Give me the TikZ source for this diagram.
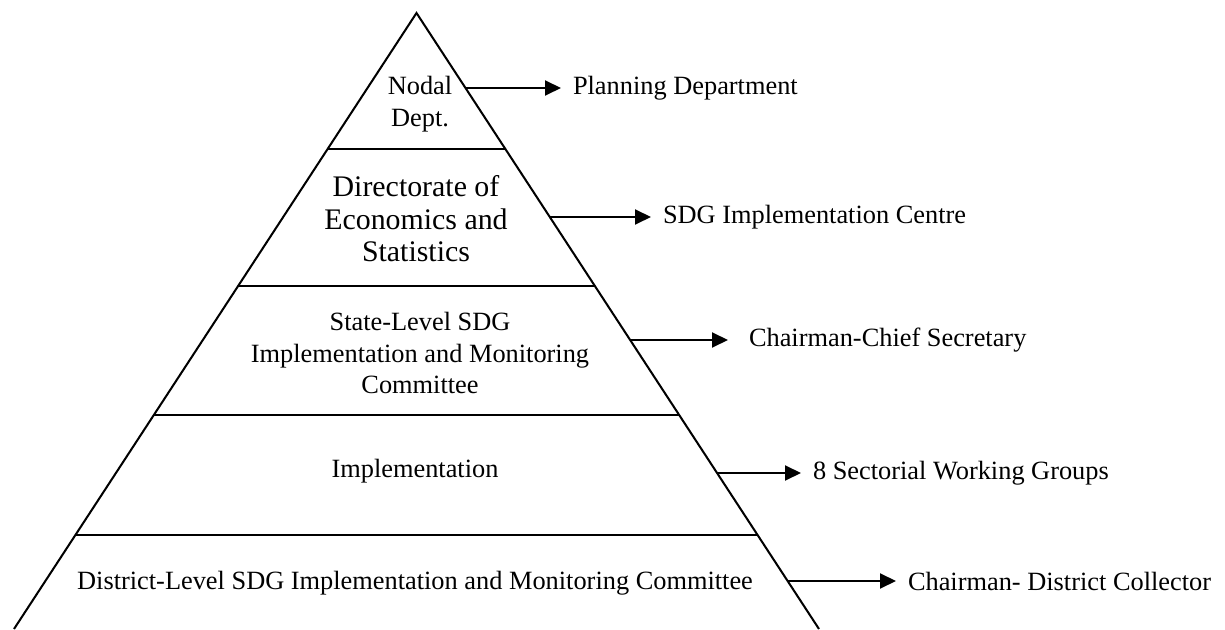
\documentclass[tikz,border=0pt]{standalone}
\usepackage{fontspec}
\setmainfont{Liberation Serif}
\usetikzlibrary{arrows.meta}
\tikzset{
	level/.style = {align=center, font=\fontsize{15}{18}\selectfont},
	side/.style = {anchor=west, inner sep=0pt, font=\fontsize{15}{18}\selectfont},
	pointer/.style = {line width=1.1pt, -{Triangle[length=0.32cm,width=0.3cm]}, shorten >=0.22cm}
}
\begin{document}
\begin{tikzpicture}[line width=1.15pt]
		\useasboundingbox (0,0) rectangle (24.5,12.58);
		
		% pyramid
		\coordinate (apex) at (8.33,12.32);
		\coordinate (bl) at (0.28,0);
		\coordinate (br) at (16.38,0);
		\draw (bl) -- (apex) -- (br);
		
		\draw (6.553,9.6) -- (10.107,9.6);
		\draw (4.762,6.86) -- (11.898,6.86);
		\draw (3.077,4.28) -- (13.583,4.28);
		\draw (1.508,1.88) -- (15.152,1.88);
		
		% levels
		\node[level] (nodal) at (8.4,10.5) {Nodal\\Dept.};
		\node[level, font=\fontsize{17}{18.5}\selectfont] (des) at (8.32,8.2) {Directorate of\\Economics and\\Statistics};
		\node[level] (state) at (8.4,5.52) {State-Level SDG\\Implementation and Monitoring\\Committee};
		\node[level] (impl) at (8.3,3.16) {Implementation};
		\node[level] (district) at (8.3,0.92) {District-Level SDG Implementation and Monitoring Committee};
		
		% points on the right edge
		\coordinate (e1) at (9.31,10.82);
		\coordinate (e2) at (10.996,8.24);
		\coordinate (e3) at (12.603,5.78);
		\coordinate (e4) at (14.341,3.12);
		\coordinate (e5) at (15.753,0.96);
		
		% side labels
		\node[side] (plan) at (11.44,10.82) {Planning Department};
		\node[side] (centre) at (13.24,8.24) {SDG Implementation Centre};
		\node[side] (chief) at (14.96,5.78) {Chairman-Chief Secretary};
		\node[side] (groups) at (16.24,3.12) {8 Sectorial Working Groups};
		\node[side] (collector) at (18.14,0.96) {Chairman- District Collector};
		
		\draw[pointer] (e1) -- (plan.west);
		\draw[pointer] (e2) -- (centre.west);
		\draw[pointer, shorten >=0.4cm] (e3) -- (chief.west);
		\draw[pointer] (e4) -- (groups.west);
		\draw[pointer] (e5) -- (collector.west);
	\end{tikzpicture}
\end{document}
